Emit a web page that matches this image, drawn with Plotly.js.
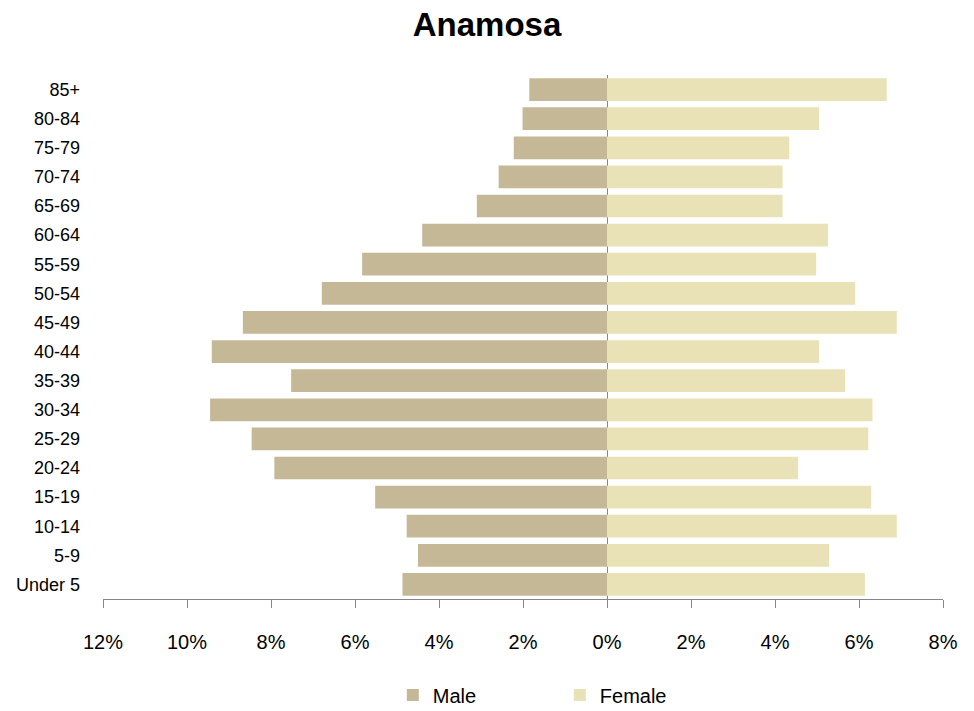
<!DOCTYPE html>
<html>
<head>
<meta charset="utf-8">
<script src="https://cdn.plot.ly/plotly-3.0.1.min.js"></script>
<style>html,body{margin:0;padding:0;background:#fff;}#chart{width:974px;height:711px;}</style>
</head>
<body>
<div id="chart"></div>
<script>
const ageGroups = ["Under 5","5-9","10-14","15-19","20-24","25-29","30-34","35-39","40-44","45-49","50-54","55-59","60-64","65-69","70-74","75-79","80-84","85+"];
const malePct = [4.87,4.50,4.77,5.52,7.92,8.46,9.45,7.52,9.41,8.67,6.79,5.83,4.40,3.10,2.58,2.22,2.01,1.85];
const femalePct = [6.14,5.29,6.90,6.29,4.55,6.22,6.32,5.67,5.05,6.90,5.91,4.98,5.26,4.18,4.18,4.34,5.05,6.66];
const tickValues = [-12,-10,-8,-6,-4,-2,0,2,4,6,8];
const tickLabels = ["12%","10%","8%","6%","4%","2%","0%","2%","4%","6%","8%"];

const font = "Liberation Sans, Arial, sans-serif";
const traces = [
  {type:"bar", orientation:"h", name:"Male", y:ageGroups, x:malePct.map(v=>-v),
   marker:{color:"#c4b896"}, hoverinfo:"y+text", text:malePct.map(v=>v+"%"), textposition:"none"},
  {type:"bar", orientation:"h", name:"Female", y:ageGroups, x:femalePct,
   marker:{color:"#e9e2b7"}, hoverinfo:"y+text", text:femalePct.map(v=>v+"%"), textposition:"none"}
];
const layout = {
  width:974, height:711,
  margin:{l:103, r:31, t:75, b:112, autoexpand:false},
  paper_bgcolor:"#fff", plot_bgcolor:"#fff",
  font:{family:font, color:"#000", size:16},
  title:{text:"<b>Anamosa</b>", font:{family:font, size:33, color:"#000"}, x:0.5, xanchor:"center", y:0.965, yanchor:"middle"},
  barmode:"relative", bargap:0.22,
  showlegend:true,
  legend:{orientation:"h", x:0.345, xanchor:"left", y:-0.183, yanchor:"middle", font:{size:20},
          entrywidth:122, entrywidthmode:"pixels", itemwidth:30, traceorder:"normal"},
  xaxis:{range:[-12,8], tickvals:tickValues, ticktext:tickLabels, showgrid:false,
         zeroline:true, zerolinecolor:"#868686", zerolinewidth:1,
         showline:true, linecolor:"#868686", linewidth:1, ticks:"outside", ticklen:8, tickcolor:"#868686",
         tickfont:{size:20}, ticklabelstandoff:17, fixedrange:true},
  yaxis:{type:"category", categoryorder:"array", categoryarray:ageGroups, showgrid:false, showline:false,
         zeroline:false, ticks:"", tickfont:{size:18}, ticklabelstandoff:22, fixedrange:true}
};
Plotly.newPlot("chart", traces, layout, {displayModeBar:false, staticPlot:true});
</script>
</body>
</html>
